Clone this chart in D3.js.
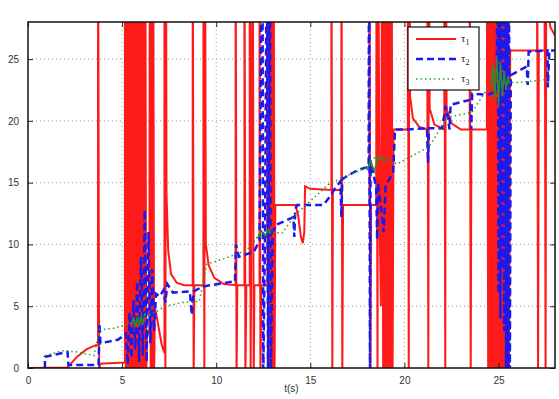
<!DOCTYPE html>
<html>
<head>
<meta charset="utf-8">
<script src="https://cdn.jsdelivr.net/npm/d3@7"></script>
<style>
  body { margin: 0; background: #fff; }
  svg { display: block; }
  .tick text { font-family: "Liberation Sans", Arial, sans-serif; font-size: 10px; fill: #333; }
</style>
</head>
<body>
<svg width="559" height="399"></svg>
<script>
// spike ends (drawn past the axes and clipped)
var H = 40, L = -1;

var xTicks = [0, 5, 10, 15, 20, 25];
var yTicks = [0, 5, 10, 15, 20, 25];
var legendNames = ['1', '2', '3'];

// tau_1 (red)
var tau1 = [
  [0,0],[2.1,0.05],[2.6,0.9],[3.1,1.5],[3.6,1.85],[3.72,1.85],[3.72,H],[3.78,L],[3.82,0.35],[5.1,0.45],
  [5.15,0.5],[5.15,H],[5.2,L],[5.24,H],[5.29,L],[5.3,26.8],[5.33,H],[5.38,L],[5.42,H],[5.47,L],
  [5.51,H],[5.56,L],[5.6,H],[5.65,L],[5.69,H],[5.74,L],[5.78,H],[5.83,L],[5.87,H],[5.92,L],
  [5.96,H],[6.01,L],[6.05,H],[6.1,L],[6.14,H],[6.19,L],[6.23,H],[6.28,L],[6.32,2.5],[6.45,3],
  [6.47,H],[6.52,L],[6.56,H],[6.61,L],[6.65,H],[6.7,L],[6.74,4.8],[6.8,4.5],[6.95,3.2],[7.1,1.9],
  [7.25,1.2],[7.25,H],[7.3,L],[7.33,H],[7.36,14],[7.45,9.5],[7.6,7.6],[7.9,6.9],[8.3,6.7],[8.75,6.7],
  [8.75,H],[8.8,L],[8.84,6.7],[9.32,6.7],[9.32,H],[9.37,L],[9.4,H],[9.45,10],[9.6,8.3],[9.9,7.3],
  [10.4,6.8],[11.03,6.7],[11.03,H],[11.08,L],[11.12,6.7],[11.5,6.7],[11.5,H],[11.55,L],[11.6,6.7],[11.78,6.7],
  [11.78,H],[11.83,L],[11.94,H],[11.99,L],[12.03,6.7],[12.3,6.7],[12.3,H],[12.35,L],[12.4,6.7],[12.72,6.7],
  [12.72,H],[12.77,L],[12.83,H],[12.88,L],[12.94,H],[12.99,L],[13.05,H],[13.1,L],[13.14,13.2],[14.2,13.2],
  [14.35,12.4],[14.5,10.6],[14.6,10.1],[14.68,11],[14.72,14.7],[15.0,14.5],[16.12,14.4],[16.12,H],[16.17,L],[16.2,14.4],
  [16.65,14.4],[16.65,H],[16.7,L],[16.74,13.2],[18.14,13.2],[18.14,H],[18.19,L],[18.23,13.2],[18.5,13.2],[18.52,H],
  [18.57,L],[18.6,H],[18.68,12],[18.75,5],[18.82,H],[18.87,L],[18.92,H],[18.97,L],[19.02,H],[19.07,L],
  [19.12,H],[19.17,L],[19.22,H],[19.27,L],[19.32,H],[19.37,L],[19.42,19.3],[20.18,19.3],[20.18,H],[20.23,L],
  [20.26,H],[20.3,22],[20.45,20.2],[20.8,19.5],[21.22,19.3],[21.22,H],[21.27,L],[21.3,H],[21.34,21],[21.6,19.7],
  [22.12,19.3],[22.12,H],[22.17,L],[22.2,H],[22.24,21],[22.5,19.8],[23.0,19.3],[23.47,19.3],[23.47,H],[23.52,L],
  [23.56,19.3],[24.38,19.3],[24.4,H],[24.45,L],[24.48,H],[24.53,L],[24.56,H],[24.61,L],[24.64,H],[24.69,L],
  [24.72,H],[24.77,L],[24.8,H],[24.85,L],[24.88,H],[24.93,L],[24.96,H],[25.01,L],[25.04,H],[25.09,L],
  [25.12,H],[25.17,L],[25.2,H],[25.25,L],[25.3,H],[25.35,L],[25.4,H],[25.45,L],[25.5,H],[25.55,L],
  [25.62,25.7],[27.05,25.7],[27.05,H],[27.1,L],[27.14,25.7],[27.45,25.7],[27.45,H],[27.5,L],[27.54,H],[27.6,30],
  [27.75,27.6],[28,26.9]
];

// tau_2 (blue dashed)
var tau2 = [
  [0.9,0],[0.9,0.9],[2.1,1.3],[2.15,0.25],[3.75,0.25],[3.8,3.6],[3.85,2.0],[4.8,2.3],[5.2,2.8],
  [5.3,0.3],[5.4,4.5],[5.5,0.8],[5.6,5.5],[5.7,1.5],[5.8,7],[5.9,0.5],[6.0,9],[6.1,1],[6.2,12.8],
  [6.3,0.5],[6.4,11],[6.5,2],[6.6,8],[6.7,3],[6.8,6],[7.0,5.8],[7.2,6.3],[7.3,5.3],[7.4,6.8],
  [7.7,6.1],[8.6,6.2],[8.7,4.3],[8.8,6.2],[9.3,6.6],[10.9,7.0],[11.0,7.0],[11.05,10],[11.2,9.0],[12.0,9.4],
  [12.3,10.3],[12.45,H],[12.5,L],[12.6,12],[12.7,H],[12.75,L],[12.85,H],[12.9,L],[13.0,11],[13.2,11.6],
  [13.8,12.0],[14.1,12.2],[14.15,10.6],[14.2,12.8],[14.3,13.2],[15.7,13.2],[16.0,13.8],[16.3,14.5],[16.6,15.1],[16.65,12.2],
  [16.7,15.3],[17.5,16.0],[18.1,16.3],[18.12,H],[18.17,L],[18.2,16.8],[18.5,14.6],[18.55,10.4],[18.6,15],[18.9,11],
  [19.0,14.8],[19.4,15.8],[19.5,19.3],[20.0,19.3],[21.2,19.4],[21.25,16.6],[21.3,19.4],[22.0,19.4],[22.2,21.2],[22.4,19.3],
  [22.45,21.3],[23.5,21.7],[23.55,19.3],[23.6,22.2],[24.4,22.1],[24.9,22.4],[24.95,H],[25.0,6],[25.05,H],[25.1,4],
  [25.15,H],[25.2,8],[25.25,H],[25.3,3],[25.35,H],[25.4,L],[25.45,H],[25.5,L],[25.55,H],[25.6,L],
  [25.65,23.7],[26.5,24.4],[26.55,22.9],[26.6,25.6],[27.6,25.7],[27.62,22.7],[27.7,25.7],[28,25.7]
];

// tau_3 (green dotted)
var tau3 = [
  [0.9,1.0],[1.8,1.4],[2.6,1.3],[3.5,1.0],[3.8,3.1],[4.5,3.2],[5.2,3.5],[5.6,3.7],[6.1,4.4],[6.5,4.3],
  [7.3,5.0],[8.2,5.3],[9.1,5.4],[9.5,8.4],[10.5,8.9],[11.6,9.5],[12.2,10.6],[12.9,11.0],[13.5,10.9],[14.2,12.4],
  [15.0,13.5],[16.0,14.9],[17.0,15.6],[18.0,16.2],[18.4,17.0],[19.2,16.9],[19.6,16.5],[21.3,17.9],[22.3,20.3],[23.6,20.7],
  [24.4,22.6],[25.0,23.1],[26.0,23.1],[27.4,23.3],[27.6,23.5]
];

// solid green bits where tau_3 oscillates
var tau3Bursts = [
  [[5.5,3.6],[5.6,4.0],[5.7,3.3],[5.8,4.1],[5.9,3.4],[6.0,4.2],[6.1,3.5],[6.2,4.4]],
  [[12.2,10.5],[12.4,11.1],[12.6,10.7],[12.8,11.2],[12.9,10.9]],
  [[18.0,16.0],[18.2,16.8],[18.4,15.9],[18.6,17.1],[18.9,16.8],[19.2,16.9]],
  [[24.6,22.8],[24.7,24.5],[24.8,21.8],[24.9,25.3],[25.0,21.2],[25.1,24.8],[25.2,22.0],[25.3,24.0],[25.4,22.5],[25.5,23.6],[25.6,23.0]]
];

var svg = d3.select('svg');
var pLeft = 28, pRight = 555, pTop = 22, pBottom = 368;

var x = d3.scaleLinear().domain([0, 28]).range([pLeft, pRight]);
var y = d3.scaleLinear().domain([0, 28]).range([pBottom, pTop]);

svg.append('defs').append('clipPath').attr('id', 'plot')
  .append('rect').attr('x', pLeft).attr('y', pTop)
  .attr('width', pRight - pLeft).attr('height', pBottom - pTop);

// grid
var grid = svg.append('g');
grid.selectAll('.gx').data(xTicks.slice(1)).enter().append('line')
  .attr('x1', function(d) { return x(d); }).attr('x2', function(d) { return x(d); })
  .attr('y1', pTop).attr('y2', pBottom);
grid.selectAll('.gy').data(yTicks.slice(1)).enter().append('line')
  .attr('y1', function(d) { return y(d); }).attr('y2', function(d) { return y(d); })
  .attr('x1', pLeft).attr('x2', pRight);
grid.selectAll('line')
  .attr('stroke', '#9a9a9a').attr('stroke-width', 1).attr('stroke-dasharray', '1,3');

var line = d3.line()
  .x(function(d) { return x(d[0]); })
  .y(function(d) { return y(d[1]); });

var plot = svg.append('g').attr('clip-path', 'url(#plot)');

plot.append('path').datum(tau1)
  .attr('d', line).attr('fill', 'none')
  .attr('stroke', '#ff1a1a').attr('stroke-width', 2);

plot.append('path').datum(tau2)
  .attr('d', line).attr('fill', 'none')
  .attr('stroke', '#1a1aee').attr('stroke-width', 2.5)
  .attr('stroke-dasharray', '7,4');

plot.append('path').datum(tau3)
  .attr('d', line).attr('fill', 'none')
  .attr('stroke', '#2e9a2e').attr('stroke-width', 1.5)
  .attr('stroke-dasharray', '1.5,3');

plot.selectAll('.burst').data(tau3Bursts).enter().append('path')
  .attr('d', line).attr('fill', 'none')
  .attr('stroke', '#2e8a2e').attr('stroke-width', 1.5);

// axes, ticks inward on all four sides
svg.append('g').attr('transform', 'translate(0,' + pBottom + ')')
  .call(d3.axisBottom(x).tickValues(xTicks).tickSize(-5).tickPadding(9));
svg.append('g').attr('transform', 'translate(0,' + pTop + ')')
  .call(d3.axisTop(x).tickValues(xTicks).tickSize(-5).tickFormat(''));
svg.append('g').attr('transform', 'translate(' + pLeft + ',0)')
  .call(d3.axisLeft(y).tickValues(yTicks).tickSize(-5).tickPadding(9));
svg.append('g').attr('transform', 'translate(' + pRight + ',0)')
  .call(d3.axisRight(y).tickValues(yTicks).tickSize(-5).tickFormat(''));
svg.selectAll('.domain').remove();
svg.selectAll('.tick line').attr('stroke', '#222');

svg.append('rect')
  .attr('x', pLeft).attr('y', pTop)
  .attr('width', pRight - pLeft).attr('height', pBottom - pTop)
  .attr('fill', 'none').attr('stroke', '#111').attr('stroke-width', 1.5);

svg.append('text')
  .attr('x', (pLeft + pRight) / 2).attr('y', 392)
  .attr('text-anchor', 'middle')
  .style('font-family', '"Liberation Sans", Arial, sans-serif')
  .style('font-size', '10px').style('fill', '#333')
  .text('t(s)');

// legend
var lg = svg.append('g').attr('transform', 'translate(408,27)');
lg.append('rect').attr('width', 71).attr('height', 63)
  .attr('fill', '#fff').attr('stroke', '#111').attr('stroke-width', 1.2);
var styles = [
  { c: '#ff1a1a', w: 2, dash: null },
  { c: '#1a1aee', w: 2.5, dash: '7,4' },
  { c: '#2e9a2e', w: 1.5, dash: '1.5,3' }
];
legendNames.forEach(function(n, i) {
  var yy = 12 + i * 20;
  lg.append('line').attr('x1', 8).attr('x2', 48).attr('y1', yy).attr('y2', yy)
    .attr('stroke', styles[i].c).attr('stroke-width', styles[i].w)
    .attr('stroke-dasharray', styles[i].dash);
  var t = lg.append('text').attr('x', 53).attr('y', yy + 3)
    .style('font-family', '"Liberation Serif", "DejaVu Serif", serif')
    .style('font-size', '11px').style('fill', '#222');
  t.append('tspan').text('\u03c4');
  t.append('tspan').attr('dy', 3).style('font-size', '8px').text(n);
});
</script>
</body>
</html>
